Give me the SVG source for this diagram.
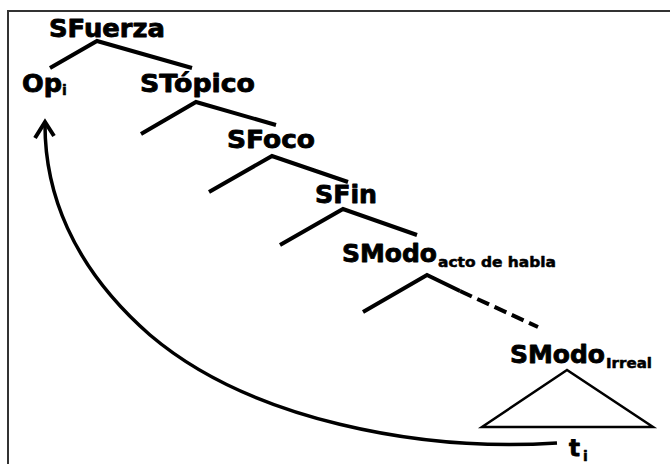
<svg xmlns="http://www.w3.org/2000/svg" width="670" height="464" viewBox="0 0 670 464">
  <style>
    .lbl { font-family: "DejaVu Sans", "Liberation Sans", sans-serif; font-weight: bold; fill: #000; stroke: #000; stroke-width: 0.8; stroke-linejoin: round; }
    .big { font-size: 24px; }
    .sub { font-size: 14px; stroke-width: 0.5; }
    .branch { fill: none; stroke: #000; stroke-width: 4; stroke-linecap: butt; stroke-linejoin: miter; }
    .dash { stroke-dasharray: 13 6; }
    .tri { fill: none; stroke: #000; stroke-width: 2.5; stroke-linejoin: miter; }
    .move { fill: none; stroke: #000; stroke-width: 3.5; }
  </style>

  <rect width="670" height="464" fill="#fff"/>
  <!-- frame -->
  <rect x="8" y="11" width="700" height="500" fill="none" stroke="#333" stroke-width="2"/>

  <!-- branches -->
  <g id="connectors">
    <polyline class="branch" points="50,68 97,41 192,68"/>
    <polyline class="branch" points="141,134 196,102 276,125"/>
    <polyline class="branch" points="209,192 272,156 348,182"/>
    <polyline class="branch" points="280,245 343,209 417,235"/>
    <polyline class="branch" points="363,312 427,275 460,291"/>
    <line class="branch dash" x1="460" y1="291" x2="538" y2="327"/>
    <!-- movement arrow from t to Op -->
    <path class="move" d="M557,443 C420,452 250,420 150,335 C70,265 45,190 45,125"/>
    <polyline class="branch" points="35,138 45,122 54,136"/>
  </g>

  <g id="SFuerza">
    <text class="lbl big" x="49" y="37" textLength="116" lengthAdjust="spacingAndGlyphs">SFuerza</text>
  </g>
  <g id="Op">
    <text class="lbl big" x="22" y="92" textLength="40" lengthAdjust="spacingAndGlyphs">Op</text>
    <text class="lbl sub" x="62" y="95">i</text>
  </g>
  <g id="STopico">
    <text class="lbl big" x="140" y="92" textLength="115" lengthAdjust="spacingAndGlyphs">STópico</text>
  </g>
  <g id="SFoco">
    <text class="lbl big" x="227" y="148" textLength="88" lengthAdjust="spacingAndGlyphs">SFoco</text>
  </g>
  <g id="SFin">
    <text class="lbl big" x="315" y="203" textLength="62" lengthAdjust="spacingAndGlyphs">SFin</text>
  </g>
  <g id="SModo-acto">
    <text class="lbl big" x="342" y="262" textLength="95" lengthAdjust="spacingAndGlyphs">SModo</text>
    <text class="lbl sub" x="438" y="267" font-size="15" textLength="118" lengthAdjust="spacingAndGlyphs">acto de habla</text>
  </g>
  <g id="SModo-irreal">
    <text class="lbl big" x="510" y="363" textLength="95" lengthAdjust="spacingAndGlyphs">SModo</text>
    <text class="lbl sub" x="606" y="368" textLength="46" lengthAdjust="spacingAndGlyphs">Irreal</text>
    <polygon class="tri" points="567,370 482,427 653,427"/>
  </g>
  <g id="t">
    <text class="lbl" x="569" y="456" font-size="23">t</text>
    <text class="lbl sub" x="583" y="461">i</text>
  </g>
</svg>
